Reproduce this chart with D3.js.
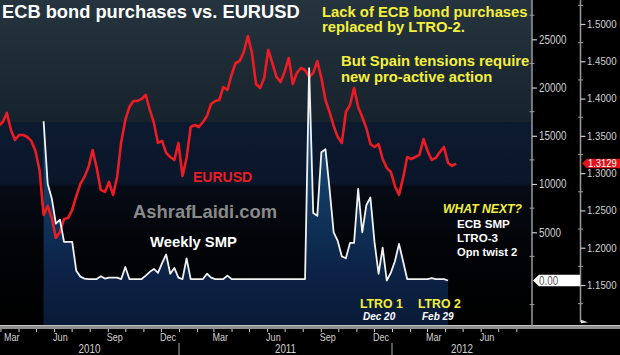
<!DOCTYPE html>
<html><head><meta charset="utf-8">
<script src="https://cdn.jsdelivr.net/npm/d3@7"></script>
<style>
html,body{margin:0;padding:0;background:#000;}
svg{display:block;}
</style></head><body>
<svg id="c" width="620" height="355"></svg>
<script>
// ---------- data ----------
const weekStart = "2010-02-26";           // first weekly observation (Friday)
const eurusd = [
 1.3633,1.3686,1.3807,1.3579,1.3445,1.3512,1.3512,1.3485,1.3432,1.3298,
 1.3043,1.2440,1.2560,1.2399,1.2131,1.2212,1.2386,1.2399,1.2507,1.2694,
 1.2855,1.2949,1.3083,1.3311,1.3070,1.2775,1.2748,1.2882,1.2708,1.2949,
 1.3418,1.3713,1.3887,1.3968,1.3968,1.3995,1.4048,1.3847,1.3673,1.3405,
 1.3432,1.3271,1.3217,1.3177,1.3405,1.2962,1.3204,1.3619,1.3646,1.3619,
 1.3686,1.3767,1.3928,1.3968,1.3981,1.4155,1.4115,1.4316,1.4477,1.4504,
 1.4625,1.4839,1.4611,1.4196,1.4142,1.4276,1.4651,1.4477,1.4290,1.4223,
 1.4357,1.4544,1.4196,1.4343,1.4410,1.4383,1.4290,1.4343,1.4504,1.4276,
 1.3981,1.3820,1.3633,1.3485,1.3405,1.3820,1.3914,1.4142,1.3887,1.3753,
 1.3606,1.3391,1.3351,1.3391,1.3190,1.3070,1.3016,1.2828,1.2708,1.2936,
 1.3217,1.3190,1.3217,1.3244,1.3458,1.3298,1.3177,1.3204,1.3284,1.3351,
 1.3137,1.3096,1.3129];
const smpFirstWeek = 11;                 // SMP starts week of May 14, 2010
const smp = [
 16500,10000,8500,5900,6300,4000,4000,4000,1000,400,
 200,150,150,150,450,200,300,300,300,150,
 1400,150,150,150,150,500,900,1200,800,1800,
 2700,700,1300,300,150,2300,150,150,150,150,
 700,300,150,150,150,500,150,150,150,150,
 150,150,150,150,150,150,150,150,150,150,
 150,150,150,150,150,22000,7000,6700,13300,13600,
 9500,5000,4100,2500,2300,3900,3900,9500,5000,7800,
 8600,4000,700,3400,0,800,2000,3800,2000,150,
 150,150,150,150,150,250,150,150,150,0];
const smpTicks = [5000,10000,15000,20000,25000];
const smpMinorTicks = [-2500,2500,7500,12500,17500,22500,27500];
const fxTicks = [1.15,1.20,1.25,1.30,1.35,1.40,1.45,1.50];
const fxMinorTicks = [1.125,1.175,1.225,1.275,1.325,1.375,1.425,1.475,1.525];
const years = ["2010","2011","2012"];
const lastSmp = 0.00, lastFx = 1.3129;

// ---------- layout ----------
const plotR = 532, plotB = 325;
const sans = "'Liberation Sans',Arial,sans-serif";
const svg = d3.select("#c");
const parse = d3.utcParse("%Y-%m-%d");
const x = d3.scaleUtc().domain([parse("2011-01-01"), parse("2012-01-01")]).range([179, 392]);
const ySmp = d3.scaleLinear().domain([0, 25000]).range([280.5, 39.3]);
const yFx = d3.scaleLinear().domain([1.15, 1.50]).range([285, 24]);
const start = parse(weekStart);
const wk = i => d3.utcDay.offset(start, 7 * i);

const fxData = eurusd.map((v, i) => ({d: wk(i), v}));
const smpData = smp.map((v, i) => ({d: wk(i + smpFirstWeek), v}));

// condensed look: squeeze Liberation Sans horizontally
function narrowText(sel, k) {
  sel.attr("font-family", sans).each(function() {
    const len = this.getComputedTextLength();
    d3.select(this).attr("textLength", len * (k || 0.82)).attr("lengthAdjust", "spacingAndGlyphs");
  });
}

const defs = svg.append("defs");
const g1 = defs.append("linearGradient").attr("id","topBand").attr("x1",0).attr("y1",0).attr("x2",0).attr("y2",1);
g1.append("stop").attr("offset",0).attr("stop-color","#25343e");
g1.append("stop").attr("offset",1).attr("stop-color","#17232c");
const g2 = defs.append("linearGradient").attr("id","lowBand").attr("gradientUnits","userSpaceOnUse")
  .attr("x1",0).attr("y1",122).attr("x2",0).attr("y2",plotB);
g2.append("stop").attr("offset",0).attr("stop-color","#0c1a30");
g2.append("stop").attr("offset",0.3).attr("stop-color","#0a1629");
g2.append("stop").attr("offset",0.32).attr("stop-color","#060b15");
g2.append("stop").attr("offset",0.6).attr("stop-color","#020408");
g2.append("stop").attr("offset",1).attr("stop-color","#000000");
const g3 = defs.append("linearGradient").attr("id","smpFill").attr("gradientUnits","userSpaceOnUse")
  .attr("x1",0).attr("y1",60).attr("x2",0).attr("y2",plotB);
g3.append("stop").attr("offset",0).attr("stop-color","#245d86");
g3.append("stop").attr("offset",0.5).attr("stop-color","#123a62");
g3.append("stop").attr("offset",0.8).attr("stop-color","#0c2246");
g3.append("stop").attr("offset",1).attr("stop-color","#0a1a38");
defs.append("clipPath").attr("id","plotClip").append("rect")
  .attr("x",0).attr("y",0).attr("width",plotR).attr("height",plotB);

// background
svg.append("rect").attr("x",0).attr("y",0).attr("width",620).attr("height",355).attr("fill","#000");
svg.append("rect").attr("x",0).attr("y",0).attr("width",plotR).attr("height",122).attr("fill","url(#topBand)");
svg.append("rect").attr("x",0).attr("y",122).attr("width",plotR).attr("height",plotB-122).attr("fill","url(#lowBand)");

const plot = svg.append("g").attr("clip-path","url(#plotClip)");
plot.append("path").datum(smpData)
  .attr("d", d3.area().x(d => x(d.d)).y0(plotB).y1(d => ySmp(d.v)))
  .attr("fill","url(#smpFill)");
plot.append("path").datum(fxData)
  .attr("d", d3.line().x(d => x(d.d)).y(d => yFx(d.v)))
  .attr("fill","none").attr("stroke","#ec1c24").attr("stroke-width",2.6).attr("stroke-linejoin","round");
plot.append("path").datum(smpData)
  .attr("d", d3.line().x(d => x(d.d)).y(d => ySmp(d.v)))
  .attr("fill","none").attr("stroke","#f2f2f2").attr("stroke-width",1.8).attr("stroke-linejoin","round");

// bottom axis bar
svg.append("rect").attr("x",0).attr("y",plotB).attr("width",620).attr("height",4).attr("fill","#8e8e8e");
svg.append("line").attr("x1",0).attr("x2",620).attr("y1",plotB+0.5).attr("y2",plotB+0.5).attr("stroke","#c4c4c4");

// month ticks & labels
const months = d3.utcMonth.range(parse("2010-03-01"), parse("2012-09-01"));
svg.append("g").selectAll("line").data(months).join("line")
  .attr("x1", d => x(d) + 0.5).attr("x2", d => x(d) + 0.5)
  .attr("y1", plotB + 4).attr("y2", plotB + 7)
  .attr("stroke","#cfcfcf");
svg.append("g").selectAll("text").data(months.filter(d => d.getUTCMonth() % 3 === 2)).join("text")
  .attr("x", d => Math.max(x(d) - 1, 4)).attr("y", 340.5)
  .attr("font-size", 11).attr("fill","#d2d2d2")
  .text(d3.utcFormat("%b"))
  .call(narrowText);
const yearBounds = [parse("2011-01-01"), parse("2012-01-01")];
svg.append("g").selectAll("line").data(yearBounds).join("line")
  .attr("x1", d => x(d)).attr("x2", d => x(d)).attr("y1", 343).attr("y2", 355)
  .attr("stroke","#a8a8a8");
const yearEdges = [0, x(yearBounds[0]), x(yearBounds[1]), plotR];
svg.append("g").selectAll("text").data(years).join("text")
  .attr("x", (d, i) => (yearEdges[i] + yearEdges[i+1]) / 2).attr("y", 353)
  .attr("text-anchor","middle").attr("font-size", 12).attr("fill","#d2d2d2")
  .text(d => d)
  .call(narrowText);

// right axes
svg.append("line").attr("x1",plotR).attr("x2",plotR).attr("y1",0).attr("y2",327).attr("stroke","#9a9a9a").attr("stroke-width",1.5);
svg.append("line").attr("x1",580.5).attr("x2",580.5).attr("y1",0).attr("y2",322).attr("stroke","#9a9a9a").attr("stroke-width",1.5);

const a1 = svg.append("g").attr("transform",`translate(${plotR},0)`)
  .call(d3.axisRight(ySmp).tickValues(smpTicks).tickSize(5).tickPadding(2).tickFormat(d3.format("d")));
const a2 = svg.append("g").attr("transform","translate(580.5,0)")
  .call(d3.axisRight(yFx).tickValues(fxTicks).tickSize(5).tickPadding(1.5).tickFormat(d3.format(".4f")));
[a1, a2].forEach(a => {
  a.select(".domain").remove();
  a.selectAll(".tick line").attr("stroke","#c8c8c8").attr("stroke-width",1.2);
  a.selectAll(".tick text").attr("fill","#d0d0d0");
});
a1.selectAll(".tick text").attr("font-size", 12).call(narrowText, 0.82);
a2.selectAll(".tick text").attr("font-size", 10.5).call(narrowText, 0.92);
svg.append("g").selectAll("line").data(smpMinorTicks).join("line")
  .attr("x1", plotR - 2.5).attr("x2", plotR + 2.5).attr("y1", d => ySmp(d)).attr("y2", d => ySmp(d))
  .attr("stroke","#9a9a9a");
svg.append("g").selectAll("line").data(fxMinorTicks).join("line")
  .attr("x1", 578).attr("x2", 583).attr("y1", d => yFx(d)).attr("y2", d => yFx(d))
  .attr("stroke","#9a9a9a");
const yEnd = yFx(1.10);
svg.append("path").attr("d", `M581,${yEnd-2.5}L588,${yEnd}L581,${yEnd+1}Z`).attr("fill","#e0e0e0");

// last-value tags
const y0 = ySmp(lastSmp);
svg.append("path").attr("d", `M533,${y0}L539,${y0-5.8}L580,${y0-5.8}L580,${y0+5.8}L539,${y0+5.8}Z`).attr("fill","#ffffff");
svg.append("text").attr("x",539).attr("y",y0+4.5).attr("font-size",12).attr("fill","#5a5a5a")
  .text(d3.format(".2f")(lastSmp)).call(narrowText);
const yv = yFx(lastFx);
svg.append("path").attr("d", `M582,${yv}L587,${yv-4.8}L620,${yv-4.8}L620,${yv+4.8}L587,${yv+4.8}Z`).attr("fill","#e0141c");
svg.append("text").attr("x",588).attr("y",yv+3.6).attr("font-size",10.2).attr("fill","#ffffff")
  .text(d3.format(".4f")(lastFx)).call(narrowText, 0.92);

// texts
function txt(t, px, py, size, fill, weight, style) {
  svg.append("text").attr("x", px).attr("y", py)
    .attr("font-family", sans).attr("font-size", size)
    .attr("font-weight", weight || "bold").attr("font-style", style || "normal")
    .attr("fill", fill).text(t);
}
const yellow = "#f4f03c";
txt("ECB bond purchases vs. EURUSD", 2, 18, 18.3, "#ffffff");
txt("Lack of ECB bond purchases", 322, 16.8, 14.8, yellow);
txt("replaced by LTRO-2.", 322, 31.8, 14.8, yellow);
txt("But Spain tensions require", 341, 66, 14.8, yellow);
txt("new pro-active action", 341, 81.7, 14.8, yellow);
txt("EURUSD", 193, 181.5, 14, "#ec1c24");
txt("AshrafLaidi.com", 133, 217.5, 18.4, "#8a8a8a");
txt("Weekly SMP", 150, 247, 14.8, "#ffffff");
txt("WHAT NEXT?", 443, 212.5, 12.2, yellow, "bold", "italic");
txt("ECB SMP", 457, 228, 11.6, "#ffffff");
txt("LTRO-3", 457, 242, 11.6, "#ffffff");
txt("Opn twist 2", 457, 255.5, 11.2, "#ffffff");
txt("LTRO 1", 360, 307.5, 12.3, yellow);
txt("LTRO 2", 418, 307.5, 12.3, yellow);
txt("Dec 20", 363, 320, 10, "#ffffff", "bold", "italic");
txt("Feb 29", 422, 320, 10, "#ffffff", "bold", "italic");
</script>
</body></html>
